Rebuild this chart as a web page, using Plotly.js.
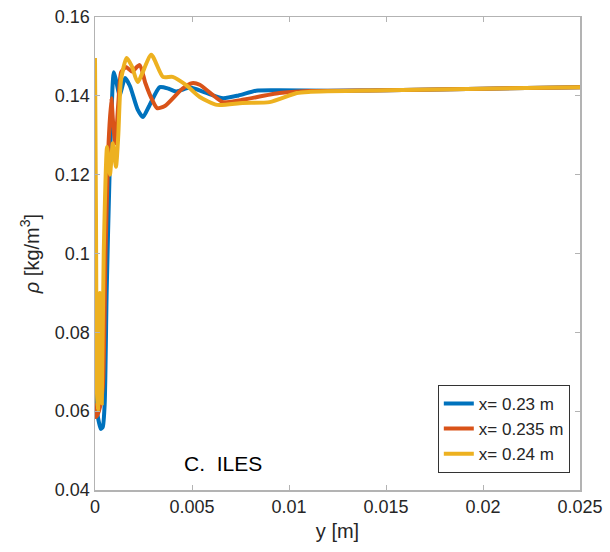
<!DOCTYPE html>
<html>
<head>
<meta charset="utf-8">
<script src="https://cdn.plot.ly/plotly-3.0.1.min.js"></script>
<style>html,body{margin:0;padding:0;background:#fff;}#chart{width:610px;height:552px;}</style>
</head>
<body>
<div id="chart"></div>
<script>
// Series names
const seriesNames = ["x= 0.23 m", "x= 0.235 m", "x= 0.24 m"];

// x = 0.23 m (blue)
const blueY_m = [0, 0.0001, 0.0003, 0.0004, 0.0005, 0.0006, 0.00075, 0.0009, 0.00097, 0.00108, 0.00127, 0.00155, 0.0018, 0.0022, 0.00247, 0.0028, 0.00334, 0.0038, 0.0042, 0.0049, 0.0057, 0.0066, 0.0074, 0.0083, 0.0095, 0.012, 0.015, 0.020, 0.025];
const blueRho  = [0.066, 0.060, 0.0555, 0.056, 0.062, 0.090, 0.120, 0.142, 0.146, 0.144, 0.1402, 0.1445, 0.1425, 0.1365, 0.1346, 0.1375, 0.1422, 0.1418, 0.1411, 0.1421, 0.1408, 0.1394, 0.1401, 0.1413, 0.1414, 0.1413, 0.1414, 0.1418, 0.1422];

// x = 0.235 m (red)
const redY_m = [0, 0.00005, 0.0002, 0.0004, 0.00054, 0.0007, 0.00084, 0.00095, 0.00105, 0.0012, 0.00135, 0.0016, 0.0019, 0.0023, 0.0026, 0.0029, 0.0032, 0.0036, 0.0045, 0.005, 0.0054, 0.006, 0.0066, 0.0075, 0.0095, 0.011, 0.015, 0.020, 0.025];
const redRho  = [0.062, 0.0585, 0.060, 0.066, 0.100, 0.128, 0.1394, 0.132, 0.128, 0.138, 0.146, 0.1473, 0.1462, 0.1478, 0.1432, 0.1395, 0.1369, 0.1374, 0.1418, 0.1432, 0.1428, 0.1405, 0.1384, 0.1389, 0.1407, 0.1412, 0.1414, 0.1418, 0.1422];

// x = 0.24 m (yellow)
const yellowY_m = [0, 0.00005, 0.0001, 0.00015, 0.0002, 0.00025, 0.0003, 0.00035, 0.00045, 0.00062, 0.00077, 0.00092, 0.00108, 0.0012, 0.00134, 0.00163, 0.0019, 0.0022, 0.0029, 0.0035, 0.004, 0.0047, 0.0054, 0.0063, 0.0076, 0.009, 0.0104, 0.011, 0.015, 0.020, 0.025];
const yellowRho  = [0.1496, 0.110, 0.065, 0.0603, 0.075, 0.090, 0.075, 0.062, 0.100, 0.127, 0.120, 0.128, 0.122, 0.130, 0.144, 0.1496, 0.1475, 0.1435, 0.1504, 0.1448, 0.1448, 0.1427, 0.1397, 0.1377, 0.1382, 0.1384, 0.1407, 0.1410, 0.1414, 0.1418, 0.1422];

const xTicks = [0, 0.005, 0.01, 0.015, 0.02, 0.025];
const xTickText = ["0", "0.005", "0.01", "0.015", "0.02", "0.025"];
const yTicks = [0.04, 0.06, 0.08, 0.1, 0.12, 0.14, 0.16];
const yTickText = ["0.04", "0.06", "0.08", "0.1", "0.12", "0.14", "0.16"];

const colors = ["#0072BD", "#D95319", "#EDB120"];
const xs = [blueY_m, redY_m, yellowY_m];
const ys = [blueRho, redRho, yellowRho];

const traces = xs.map((x, i) => ({
  x: x, y: ys[i], name: seriesNames[i], type: "scatter", mode: "lines",
  line: {color: colors[i], width: 4, shape: "spline", smoothing: 0.6}
}));

const axisCommon = {
  showgrid: false, zeroline: false, showline: true, mirror: "ticks",
  linecolor: "#b3b3b3", linewidth: 1.5, ticks: "inside", ticklen: 5,
  tickcolor: "#b3b3b3", tickfont: {family: "Liberation Sans, Arial, sans-serif", size: 18, color: "#262626"}
};

const layout = {
  width: 610, height: 552,
  margin: {l: 95, r: 30, t: 17, b: 62},
  paper_bgcolor: "#fff", plot_bgcolor: "#fff",
  showlegend: true,
  xaxis: Object.assign({}, axisCommon, {
    range: [0, 0.025], tickvals: xTicks, ticktext: xTickText,
    title: {text: "y [m]", font: {family: "Liberation Sans, Arial, sans-serif", size: 20, color: "#262626"}, standoff: 8}
  }),
  yaxis: Object.assign({}, axisCommon, {
    range: [0.04, 0.16], tickvals: yTicks, ticktext: yTickText,
    title: {text: "<i>ρ</i> [kg/m<sup>3</sup>]", font: {family: "Liberation Sans, Arial, sans-serif", size: 20, color: "#262626"}, standoff: 10}
  }),
  legend: {
    x: 0.979, y: 0.036, xanchor: "right", yanchor: "bottom",
    bgcolor: "#fff", bordercolor: "#333", borderwidth: 1,
    font: {family: "Liberation Sans, Arial, sans-serif", size: 17, color: "#262626"},
    itemwidth: 30, tracegroupgap: 0
  },
  annotations: [{
    x: 0.0066, y: 0.0468, xref: "x", yref: "y", text: "C.  ILES", showarrow: false,
    font: {family: "Liberation Sans, Arial, sans-serif", size: 21, color: "#000"}
  }]
};

Plotly.newPlot("chart", traces, layout, {displayModeBar: false, staticPlot: true});
</script>
</body>
</html>
